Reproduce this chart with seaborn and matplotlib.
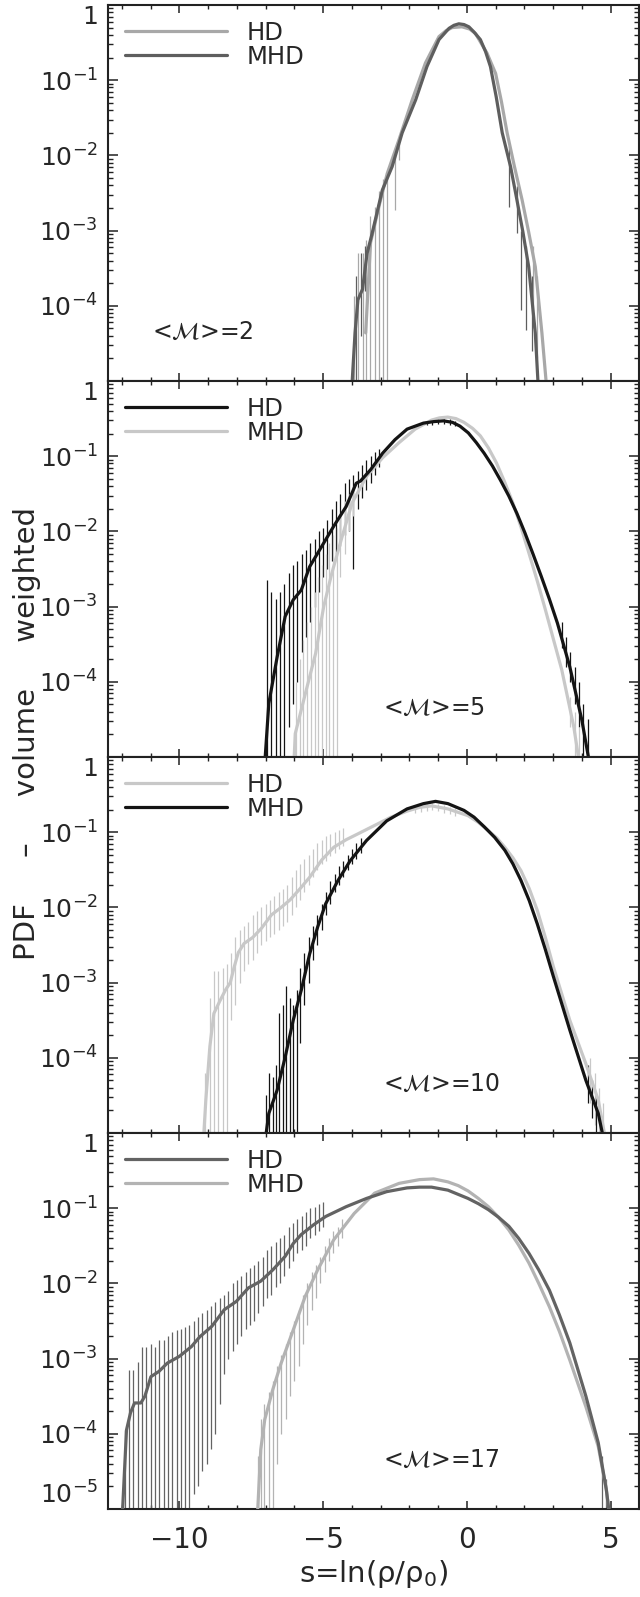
import numpy as np
import matplotlib
matplotlib.use("Agg")
import matplotlib.pyplot as plt
import seaborn as sns
from matplotlib.ticker import FixedLocator, LogLocator, MultipleLocator, FuncFormatter, NullFormatter

# values: s = ln(rho/rho0) and log10(PDF)
# ---- <M> = 2 ----
s_m2_hd = [-3.52, -3.35, -3.06, -2.77, -2.36, -1.9, -1.44, -0.97, -0.72, -0.51, -0.17, 0.1, 0.3, 0.7, 1.0, 1.2, 1.4, 1.65, 1.92, 2.15, 2.38, 2.61, 2.8]
lp_m2_hd = [-4.36, -3.16, -2.68, -2.24, -1.79, -1.26, -0.77, -0.42, -0.34, -0.30, -0.29, -0.32, -0.38, -0.64, -0.91, -1.28, -1.70, -2.14, -2.59, -3.02, -3.48, -4.36, -5.2]
s_m2_mhd = [-4.02, -3.89, -3.79, -3.63, -3.47, -3.31, -2.94, -2.6, -2.25, -1.78, -1.39, -0.97, -0.62, -0.45, -0.28, -0.1, 0.07, 0.25, 0.47, 0.65, 0.82, 1.02, 1.23, 1.52, 1.74, 1.95, 2.15, 2.38, 2.5]
lp_m2_mhd = [-5.2, -4.36, -3.92, -3.78, -3.3, -3.06, -2.46, -2.15, -1.70, -1.26, -0.82, -0.46, -0.31, -0.27, -0.25, -0.26, -0.29, -0.36, -0.46, -0.62, -0.82, -1.22, -1.70, -2.15, -2.59, -3.02, -3.48, -4.36, -5.2]
eb_m2_hd_s = [-3.92, -3.77, -3.63, -3.5, -3.37, -3.19, -3.06, -2.92, -2.77, -2.5, -2.36, 2.3, 2.45]
eb_m2_hd_lo = [-6, -6, -6, -6, -6, -6, -6, -6, -6, -2.72, -2.06, -4.3, -4.7]
eb_m2_hd_hi = [-3.87, -3.3, -3.3, -3.12, -2.81, -2.68, -2.48, -2.32, -2.24, -1.93, -1.84, -3.2, -3.6]
eb_m2_mhd_s = [-3.85, -3.7, -3.55, 1.46, 1.74, 1.9, 2.04, 2.25]
eb_m2_mhd_lo = [-6, -4.4, -3.8, -2.68, -3.03, -4.05, -4.32, -4.6]
eb_m2_mhd_hi = [-3.6, -3.3, -3.2, -1.88, -2.41, -3.0, -3.21, -3.6]

# ---- <M> = 5 ----
s_m5_hd = [-7.05, -6.89, -6.6, -6.32, -6.04, -5.76, -5.47, -5.05, -4.63, -4.2, -3.85, -3.7, -3.35, -2.93, -2.5, -2.08, -1.51, -1.15, -0.81, -0.5, -0.24, 0.05, 0.33, 0.6, 0.89, 1.17, 1.46, 1.74, 2.02, 2.3, 2.59, 2.87, 3.15, 3.58, 4.0, 4.32]
lp_m5_hd = [-5.2, -4.29, -3.67, -3.13, -2.91, -2.78, -2.47, -2.2, -1.93, -1.67, -1.36, -1.33, -1.18, -0.96, -0.78, -0.64, -0.56, -0.54, -0.53, -0.55, -0.6, -0.69, -0.82, -0.96, -1.13, -1.32, -1.53, -1.76, -2.02, -2.3, -2.6, -2.9, -3.22, -3.8, -4.51, -5.2]
s_m5_mhd = [-6.03, -5.97, -5.62, -5.26, -4.98, -4.7, -4.34, -3.99, -3.49, -2.93, -2.36, -1.8, -1.23, -0.95, -0.66, -0.38, -0.1, 0.2, 0.47, 0.75, 1.03, 1.3, 1.6, 1.88, 2.16, 2.45, 2.73, 3.0, 3.3, 3.72, 3.96]
lp_m5_mhd = [-5.2, -4.69, -4.16, -3.62, -3.0, -2.56, -2.07, -1.62, -1.27, -1.02, -0.82, -0.64, -0.52, -0.49, -0.48, -0.5, -0.55, -0.63, -0.73, -0.89, -1.09, -1.33, -1.62, -1.94, -2.29, -2.66, -3.04, -3.42, -3.84, -4.6, -5.2]
eb_m5_hd_s = [-6.95, -6.8, -6.65, -6.5, -6.35, -6.2, -6.05, -5.9, -5.75, -5.6, -5.45, -5.3, -5.15, -5.0, -4.85, -4.7, -4.55, -4.4, -4.25, -4.1, -3.95, -3.8, -3.65, -3.5, -3.35, -3.2, -3.05,
              -1.4, -1.2, -1.0, -0.8, -0.6, -0.4, 3.3, 3.45, 3.6, 3.75, 3.9, 4.05, 4.2]
eb_m5_hd_lo = [-6, -6, -6, -6, -6, -4.6, -4.3, -4.0, -3.6, -3.4, -3.2, -3.0, -2.8, -2.6, -2.5, -2.4, -2.3, -2.2, -2.05, -2.0, -2.5, -1.7, -1.55, -1.45, -1.35, -1.25, -1.15,
               -0.59, -0.58, -0.57, -0.57, -0.58, -0.6, -3.55, -3.8, -4.0, -4.3, -4.6, -5.0, -6]
eb_m5_hd_hi = [-2.65, -2.8, -2.9, -2.8, -2.7, -2.55, -2.45, -2.4, -2.3, -2.25, -2.15, -2.1, -2.0, -1.95, -1.85, -1.7, -1.6, -1.5, -1.35, -1.3, -1.25, -1.2, -1.12, -1.05, -1.0, -0.95, -0.9,
               -0.53, -0.52, -0.5, -0.5, -0.51, -0.53, -3.2, -3.4, -3.6, -3.8, -4.0, -4.3, -4.5]
eb_m5_mhd_s = [-5.95, -5.82, -5.69, -5.56, -5.43, -5.3, -5.17, -5.04, -4.91, -4.78, -4.65, -4.52, -4.4, -4.25, -4.1, -3.95, 3.6, 3.75, 3.9]
eb_m5_mhd_lo = [-6, -6, -6, -6, -6, -6, -6, -6, -6, -6, -6, -6, -2.6, -2.3, -2.0, -1.8, -4.6, -5.0, -6]
eb_m5_mhd_hi = [-4.0, -3.7, -3.45, -3.2, -3.0, -2.8, -2.6, -2.45, -2.3, -2.15, -2.05, -1.95, -1.8, -1.6, -1.5, -1.4, -4.2, -4.4, -4.6]

# ---- <M> = 10 ----
s_m10_hd = [-9.18, -9.08, -8.94, -8.8, -8.6, -8.4, -8.23, -8.1, -7.95, -7.75, -7.45, -7.15, -6.8, -6.46, -6.15, -5.8, -5.47, -5.05, -4.63, -4.2, -3.78, -3.21, -2.64, -2.08, -1.65, -1.23, -0.66, 0.04, 0.4, 0.75, 1.05, 1.32, 1.6, 1.88, 2.17, 2.45, 2.73, 3.01, 3.3, 3.58, 4.14, 4.57, 4.88]
lp_m10_hd = [-5.2, -4.56, -3.85, -3.41, -3.25, -3.1, -3.0, -2.8, -2.6, -2.48, -2.4, -2.28, -2.1, -2.0, -1.9, -1.75, -1.6, -1.37, -1.2, -1.1, -1.02, -0.91, -0.8, -0.72, -0.67, -0.65, -0.69, -0.78, -0.87, -0.98, -1.08, -1.2, -1.34, -1.51, -1.75, -2.04, -2.4, -2.79, -3.15, -3.5, -4.08, -4.56, -5.2]
s_m10_mhd = [-7.05, -6.89, -6.6, -6.32, -6.04, -5.76, -5.47, -5.19, -4.91, -4.48, -4.06, -3.49, -2.79, -2.08, -1.51, -1.09, -0.66, -0.1, 0.25, 0.61, 0.97, 1.32, 1.6, 1.88, 2.17, 2.45, 2.73, 3.01, 3.3, 3.58, 4.14, 4.57, 4.82]
lp_m10_mhd = [-5.2, -4.74, -4.43, -3.99, -3.5, -3.1, -2.62, -2.26, -1.95, -1.64, -1.38, -1.11, -0.85, -0.69, -0.62, -0.59, -0.62, -0.71, -0.8, -0.93, -1.07, -1.24, -1.42, -1.64, -1.91, -2.22, -2.56, -2.92, -3.28, -3.63, -4.3, -4.74, -5.2]
eb_m10_hd_s = [-9.1, -8.95, -8.8, -8.65, -8.5, -8.35, -8.2, -8.05, -7.9, -7.75, -7.6, -7.45, -7.3, -7.15, -7.0, -6.85, -6.7, -6.55, -6.4, -6.25, -6.1, -5.95, -5.8, -5.65, -5.5, -5.35, -5.2, -5.05, -4.9, -4.75, -4.6, -4.45, -4.3,
               -1.8, -1.6, -1.4, -1.2, -1.0, -0.8, -0.6, -0.4, 4.3, 4.45, 4.6, 4.75]
eb_m10_hd_lo = [-6, -6, -6, -6, -6, -6, -3.5, -3.3, -3.0, -2.85, -2.75, -2.7, -2.6, -2.5, -2.45, -2.4, -2.35, -2.3, -2.25, -2.2, -2.1, -2.0, -1.9, -1.8, -1.7, -1.6, -1.5, -1.42, -1.38, -1.32, -1.28, -1.22, -1.18,
                -0.74, -0.73, -0.72, -0.71, -0.72, -0.74, -0.76, -0.78, -4.6, -4.9, -5.3, -6]
eb_m10_hd_hi = [-4.2, -3.2, -2.85, -2.85, -2.8, -2.75, -2.6, -2.4, -2.3, -2.25, -2.2, -2.1, -2.05, -2.0, -1.95, -1.9, -1.85, -1.8, -1.75, -1.7, -1.6, -1.5, -1.42, -1.35, -1.3, -1.22, -1.15, -1.1, -1.05, -1.02, -1.0, -0.97, -0.95,
                -0.66, -0.64, -0.62, -0.61, -0.62, -0.64, -0.66, -0.68, -4.0, -4.2, -4.4, -4.6]
eb_m10_mhd_s = [-7.0, -6.88, -6.76, -6.64, -6.52, -6.4, -6.28, -6.16, -6.04, -5.92, -5.8, -5.65, -5.5, -5.35, -5.2, -5.05, -4.9, -4.75, -4.6, -4.45, -4.3, -4.15, -4.0, -3.85, -3.7, 4.2, 4.35, 4.5]
eb_m10_mhd_lo = [-6, -6, -6, -6, -6, -6, -6, -6, -6, -6, -3.8, -3.3, -3.0, -2.7, -2.5, -2.3, -2.1, -1.95, -1.8, -1.7, -1.6, -1.5, -1.42, -1.35, -1.28, -4.6, -4.8, -5.2]
eb_m10_mhd_hi = [-4.5, -4.2, -4.25, -4.1, -3.4, -3.3, -3.05, -3.2, -3.3, -3.1, -2.8, -2.6, -2.4, -2.25, -2.1, -1.95, -1.8, -1.65, -1.55, -1.45, -1.38, -1.3, -1.22, -1.15, -1.08, -4.1, -4.3, -4.5]

# ---- <M> = 17 ----
s_m17_hd = [-12.0, -11.84, -11.7, -11.56, -11.34, -11.2, -10.99, -10.71, -10.42, -10.0, -9.58, -9.29, -8.87, -8.44, -8.02, -7.6, -7.17, -6.75, -6.32, -6.04, -5.76, -5.33, -4.91, -4.2, -3.49, -2.79, -2.08, -1.65, -1.23, -0.66, 0.04, 0.4, 0.75, 1.1, 1.46, 1.8, 2.16, 2.5, 2.87, 3.22, 3.58, 4.14, 4.57, 4.85, 5.0]
lp_m17_hd = [-5.2, -3.95, -3.72, -3.59, -3.59, -3.5, -3.24, -3.17, -3.06, -2.97, -2.84, -2.71, -2.57, -2.35, -2.24, -2.06, -1.97, -1.82, -1.64, -1.47, -1.35, -1.22, -1.11, -0.98, -0.87, -0.78, -0.73, -0.72, -0.72, -0.76, -0.87, -0.94, -1.02, -1.12, -1.24, -1.4, -1.6, -1.82, -2.09, -2.42, -2.79, -3.5, -4.12, -4.74, -5.2]
s_m17_mhd = [-7.3, -7.17, -7.03, -6.75, -6.46, -6.04, -5.62, -5.19, -4.63, -3.92, -3.21, -2.36, -1.65, -1.16, -0.66, -0.3, 0.04, 0.4, 0.75, 1.1, 1.46, 1.8, 2.16, 2.5, 2.87, 3.22, 3.58, 4.14, 4.57, 4.85, 5.0]
lp_m17_mhd = [-5.2, -4.21, -3.81, -3.41, -3.06, -2.62, -2.17, -1.82, -1.42, -1.07, -0.8, -0.67, -0.62, -0.61, -0.65, -0.7, -0.77, -0.87, -0.98, -1.12, -1.29, -1.49, -1.73, -2.0, -2.31, -2.64, -3.02, -3.64, -4.17, -4.74, -5.2]
eb_m17_hd_s = [-11.9, -11.75, -11.6, -11.45, -11.3, -11.15, -11.0, -10.85, -10.7, -10.55, -10.4, -10.25, -10.1, -9.95, -9.8, -9.65, -9.5, -9.35, -9.2, -9.05, -8.9, -8.75, -8.6, -8.45, -8.3, -8.15,
               -8.0, -7.85, -7.7, -7.55, -7.4, -7.25, -7.1, -6.95, -6.8, -6.65, -6.5, -6.35, -6.2, -6.05, -5.9, -5.75, -5.6, -5.45, -5.3, -5.15, -5.0, 4.7, 4.85]
eb_m17_hd_lo = [-6, -6, -6, -6, -6, -6, -6, -6, -6, -6, -6, -6, -6, -6, -6, -6, -4.8, -4.7, -4.5, -4.4, -4.2, -4.0, -3.6, -3.2, -3.0, -2.9,
                -2.8, -2.7, -2.6, -2.55, -2.5, -2.4, -2.3, -2.2, -2.15, -2.05, -2.0, -1.9, -1.8, -1.7, -1.6, -1.55, -1.5, -1.4, -1.35, -1.3, -1.25, -5.2, -6]
eb_m17_hd_hi = [-3.95, -3.15, -3.15, -3.05, -2.85, -2.85, -2.8, -2.85, -2.75, -2.75, -2.7, -2.65, -2.62, -2.6, -2.58, -2.55, -2.5, -2.45, -2.4, -2.35, -2.3, -2.25, -2.2, -2.15, -2.1, -2.0,
                -1.95, -1.9, -1.85, -1.8, -1.75, -1.7, -1.65, -1.55, -1.5, -1.45, -1.4, -1.35, -1.25, -1.2, -1.15, -1.1, -1.05, -1.0, -0.98, -0.95, -0.92, -4.3, -4.6]
eb_m17_mhd_s = [-7.25, -7.15, -7.05, -6.9, -6.75, -6.6, -6.45, -6.3, -6.15, -6.0, -5.85, -5.7, -5.55, -5.4, -5.25, -5.1, -4.95, -4.8, -4.65, -4.5, -4.35]
eb_m17_mhd_lo = [-6, -6, -6, -6, -5.5, -4.4, -4.0, -3.8, -3.5, -3.3, -3.1, -2.8, -2.55, -2.35, -2.2, -2.0, -1.85, -1.7, -1.6, -1.5, -1.4]
eb_m17_mhd_hi = [-4.3, -3.8, -3.6, -3.45, -3.3, -3.1, -2.95, -2.8, -2.65, -2.5, -2.35, -2.15, -2.0, -1.85, -1.75, -1.65, -1.5, -1.4, -1.3, -1.25, -1.15]

mach_labels = ["2", "5", "10", "17"]

sns.set_theme(style="ticks")
plt.rcParams["font.family"] = ["DejaVu Sans"]
plt.rcParams["mathtext.fontset"] = "stixsans"
plt.rcParams["mathtext.default"] = "regular"

panels = [
    dict(hd=(s_m2_hd, lp_m2_hd), mhd=(s_m2_mhd, lp_m2_mhd),
         ehd=(eb_m2_hd_s, eb_m2_hd_lo, eb_m2_hd_hi), emhd=(eb_m2_mhd_s, eb_m2_mhd_lo, eb_m2_mhd_hi),
         c_hd="#a8a8a8", c_mhd="#5e5e5e", txt_x=0.084),
    dict(hd=(s_m5_hd, lp_m5_hd), mhd=(s_m5_mhd, lp_m5_mhd),
         ehd=(eb_m5_hd_s, eb_m5_hd_lo, eb_m5_hd_hi), emhd=(eb_m5_mhd_s, eb_m5_mhd_lo, eb_m5_mhd_hi),
         c_hd="#141414", c_mhd="#c8c8c8", txt_x=0.518),
    dict(hd=(s_m10_hd, lp_m10_hd), mhd=(s_m10_mhd, lp_m10_mhd),
         ehd=(eb_m10_hd_s, eb_m10_hd_lo, eb_m10_hd_hi), emhd=(eb_m10_mhd_s, eb_m10_mhd_lo, eb_m10_mhd_hi),
         c_hd="#c8c8c8", c_mhd="#141414", txt_x=0.518),
    dict(hd=(s_m17_hd, lp_m17_hd), mhd=(s_m17_mhd, lp_m17_mhd),
         ehd=(eb_m17_hd_s, eb_m17_hd_lo, eb_m17_hd_hi), emhd=(eb_m17_mhd_s, eb_m17_mhd_lo, eb_m17_mhd_hi),
         c_hd="#636363", c_mhd="#b3b3b3", txt_x=0.518),
]


def ylab(v, pos):
    e = int(round(np.log10(v)))
    return "1" if e == 0 else r"$10^{%d}$" % e


fig = plt.figure(figsize=(6.4, 15.97), dpi=100)
gs = fig.add_gridspec(4, 1, left=0.168, right=0.999, top=1 - 5 / 1597, bottom=1 - 1509 / 1597, hspace=0)
axes = []

for i, p in enumerate(panels):
    ax = fig.add_subplot(gs[i])
    axes.append(ax)
    # error bars first, curves on top
    for key, col in (("ehd", p["c_hd"]), ("emhd", p["c_mhd"])):
        es, elo, ehi = p[key]
        ax.vlines(es, 10 ** np.array(elo), 10 ** np.array(ehi), color=col, lw=0.9, zorder=1)
    order = [("HD", "hd", p["c_hd"]), ("MHD", "mhd", p["c_mhd"])]
    # lighter curve first so the darker one sits on top
    for name, key, col in sorted(order, key=lambda t: -sum(int(t[2][j:j + 2], 16) for j in (1, 3, 5))):
        s, lp = p[key]
        sns.lineplot(x=s, y=10 ** np.array(lp), ax=ax, color=col, linewidth=2.3,
                     sort=False, estimator=None, label=name, zorder=3)
    ax.set_yscale("log")
    ax.set_xlim(-12.5, 6)
    ax.set_ylim(1e-5, 1)

    h, l = ax.get_legend_handles_labels()
    idx = [l.index("HD"), l.index("MHD")]
    ax.legend([h[j] for j in idx], ["HD", "MHD"], loc="upper left", bbox_to_anchor=(0.033, 0.958),
              frameon=False, borderpad=0, borderaxespad=0, handlelength=4.2, handletextpad=0.8,
              labelspacing=0.0, fontsize=17.5)

    ax.text(p["txt_x"], 0.13, r"<$\mathcal{M}$>=" + mach_labels[i], transform=ax.transAxes,
            fontsize=17, va="center", ha="left")

    ax.set_xticks([-10, -5, 0, 5])
    ax.xaxis.set_minor_locator(MultipleLocator(1))
    if i == 3:
        ax.yaxis.set_major_locator(FixedLocator([1e-5, 1e-4, 1e-3, 1e-2, 1e-1, 1]))
    else:
        ax.yaxis.set_major_locator(FixedLocator([1e-4, 1e-3, 1e-2, 1e-1, 1]))
    ax.yaxis.set_minor_locator(LogLocator(base=10, subs=np.arange(2, 10), numticks=20))
    ax.yaxis.set_major_formatter(FuncFormatter(ylab))
    ax.yaxis.set_minor_formatter(NullFormatter())
    ax.tick_params(axis="both", which="both", direction="in", top=True, right=True, color="#222222")
    ax.tick_params(axis="y", which="major", length=7.5, width=1.1, labelsize=18, pad=7)
    ax.tick_params(axis="y", which="minor", length=3.8, width=1.0)
    ax.tick_params(axis="x", which="major", length=6, width=1.1, labelsize=20, pad=12)
    ax.tick_params(axis="x", which="minor", length=3, width=1.0)
    if i < 3:
        ax.tick_params(axis="x", labelbottom=False)
    for sp in ax.spines.values():
        sp.set_linewidth(1.5)
        sp.set_color("#222222")
    ax.set_ylabel("")
    if i == 3:
        ax.set_xlabel(r"$s$=ln($\rho/\rho_0$)", fontsize=21)
        ax.xaxis.set_label_coords(0.5, -0.13)
    else:
        ax.set_xlabel("")

fig.text(0.042, 1 - 733 / 1597, "PDF     –     volume     weighted", rotation=90, fontsize=21,
         ha="center", va="center")

# keep the edge labels inside their panel, like the original
fig.canvas.draw()
for i, ax in enumerate(axes):
    ticks = ax.yaxis.get_major_ticks()
    ticks[-1].label1.set_verticalalignment("top")
    if i == 3:
        ticks[0].label1.set_verticalalignment("bottom")

fig.savefig("out.png", dpi=100)
